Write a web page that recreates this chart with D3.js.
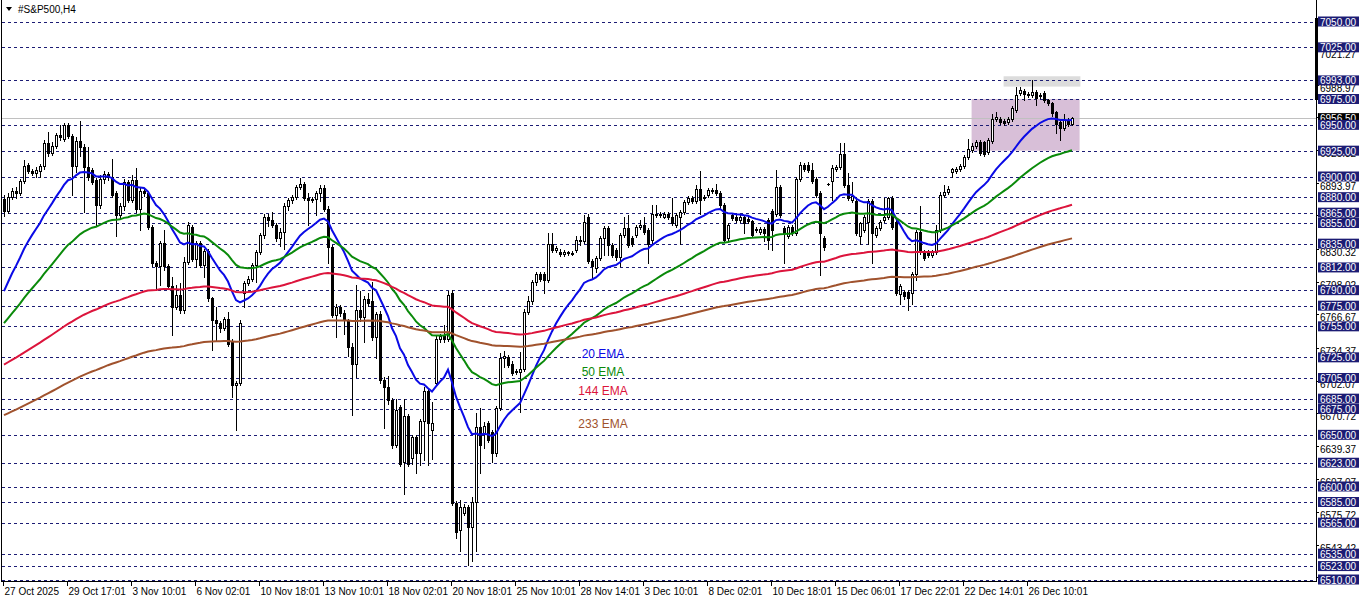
<!DOCTYPE html>
<html><head><meta charset="utf-8">
<script src="https://cdn.jsdelivr.net/npm/d3@7"></script>
<style>body{margin:0;background:#fff;} svg{display:block;font-family:"Liberation Sans",Arial,sans-serif;}</style>
</head><body><svg id="c" width="1362" height="603"></svg>
<script>
// ---- DATA ----
const opens=[6878,6867,6880,6886,6884,6896,6911,6905,6903,6905,6910,6932,6923,6930,6940,6936,6950,6939,6910,6934,6929,6909,6906,6897,6872,6898,6902,6900,6884,6863,6871,6895,6877,6897,6869,6886,6884,6851,6816,6813,6836,6813,6794,6774,6785,6771,6817,6851,6820,6836,6814,6828,6782,6761,6758,6753,6762,6741,6698,6700,6787,6797,6801,6814,6827,6843,6861,6858,6853,6840,6846,6871,6877,6880,6890,6893,6879,6877,6878,6884,6889,6869,6832,6766,6774,6768,6761,6735,6719,6771,6764,6781,6780,6745,6767,6703,6696,6684,6640,6677,6624,6668,6628,6648,6632,6663,6692,6655,6700,6743,6746,6743,6787,6584,6558,6574,6580,6561,6585,6658,6652,6661,6653,6632,6676,6724,6725,6719,6711,6711,6714,6769,6780,6798,6806,6806,6800,6835,6829,6827,6825,6827,6826,6829,6839,6838,6861,6818,6811,6821,6840,6850,6834,6829,6822,6843,6850,6840,6843,6851,6853,6848,6839,6864,6863,6861,6864,6861,6853,6861,6866,6875,6879,6876,6888,6880,6882,6887,6887,6884,6872,6840,6863,6861,6858,6861,6859,6857,6849,6846,6849,6858,6867,6864,6890,6850,6842,6851,6845,6898,6911,6911,6906,6898,6884,6840,6893,6896,6907,6909,6922,6892,6877,6876,6842,6848,6856,6876,6843,6850,6858,6861,6879,6856,6786,6788,6788,6787,6806,6846,6827,6827,6824,6827,6848,6882,6885,6904,6905,6907,6910,6919,6926,6930,6933,6933,6924,6934,6956,6956,6954,6953,6956,6964,6981,6983,6980,6979,6982,6978,6981,6974,6971,6962,6953,6947,6955,6951];
const highs=[6882,6884,6889,6890,6898,6916,6913,6907,6909,6912,6935,6943,6933,6942,6950,6952,6952,6941,6938,6954,6931,6929,6908,6899,6901,6905,6904,6917,6886,6874,6898,6897,6901,6908,6889,6889,6886,6853,6818,6838,6848,6815,6803,6795,6797,6822,6856,6853,6838,6838,6830,6830,6783,6774,6760,6764,6769,6743,6702,6761,6799,6804,6816,6829,6845,6864,6864,6866,6855,6850,6874,6879,6882,6892,6899,6895,6884,6880,6886,6892,6892,6871,6834,6777,6776,6771,6762,6739,6795,6789,6784,6787,6798,6769,6770,6706,6707,6686,6685,6679,6685,6670,6650,6650,6665,6696,6694,6682,6746,6748,6756,6789,6790,6586,6587,6583,6582,6590,6671,6676,6662,6663,6655,6678,6729,6731,6727,6721,6714,6730,6772,6784,6800,6808,6808,6808,6845,6845,6833,6830,6829,6828,6828,6842,6842,6863,6864,6820,6823,6842,6852,6852,6836,6831,6845,6861,6863,6842,6853,6858,6861,6850,6872,6872,6866,6866,6866,6879,6865,6868,6877,6881,6881,6892,6905,6882,6889,6889,6893,6886,6874,6855,6865,6863,6863,6863,6861,6858,6851,6851,6851,6860,6869,6906,6892,6852,6853,6853,6900,6914,6913,6914,6913,6900,6886,6842,6894,6911,6911,6932,6932,6903,6895,6878,6856,6863,6878,6878,6852,6858,6879,6880,6881,6858,6796,6790,6790,6808,6848,6871,6829,6829,6829,6853,6885,6892,6891,6908,6909,6912,6921,6936,6932,6935,6935,6934,6937,6960,6962,6958,6956,6958,6968,6987,6987,6985,6982,6993,6984,6981,6983,6975,6972,6963,6955,6960,6957,6958];
const lows=[6862,6865,6878,6879,6882,6894,6903,6901,6900,6900,6907,6920,6921,6928,6935,6934,6937,6882,6904,6920,6866,6897,6893,6853,6870,6894,6897,6880,6842,6860,6868,6875,6875,6866,6848,6881,6849,6813,6790,6795,6810,6793,6747,6772,6768,6768,6815,6818,6812,6812,6803,6780,6732,6742,6750,6751,6736,6687,6655,6698,6774,6795,6799,6798,6825,6840,6852,6851,6838,6833,6830,6868,6874,6878,6888,6877,6853,6875,6863,6876,6867,6816,6764,6745,6765,6748,6726,6669,6706,6760,6740,6775,6742,6724,6700,6657,6680,6637,6638,6620,6593,6620,6622,6613,6621,6626,6621,6627,6698,6740,6740,6741,6582,6550,6538,6572,6524,6528,6538,6613,6637,6643,6624,6630,6674,6716,6716,6708,6709,6672,6712,6767,6777,6795,6799,6787,6798,6827,6827,6823,6823,6824,6824,6827,6834,6836,6816,6801,6808,6819,6824,6824,6822,6819,6813,6841,6832,6833,6841,6849,6844,6816,6836,6861,6861,6860,6859,6853,6851,6835,6864,6873,6874,6874,6864,6877,6880,6884,6882,6870,6837,6838,6858,6856,6856,6845,6855,6841,6846,6844,6838,6830,6829,6862,6861,6816,6840,6843,6843,6896,6905,6904,6894,6880,6805,6829,6892,6877,6905,6907,6890,6877,6875,6843,6835,6846,6835,6816,6841,6848,6856,6859,6849,6785,6777,6781,6771,6777,6800,6825,6819,6822,6822,6825,6846,6880,6883,6900,6903,6905,6908,6917,6924,6928,6921,6920,6922,6932,6954,6951,6950,6951,6954,6962,6979,6974,6977,6977,6969,6976,6972,6969,6959,6942,6935,6945,6949,6950];
const closes=[6867,6880,6886,6884,6896,6910,6905,6903,6906,6910,6932,6923,6930,6940,6938,6950,6939,6910,6934,6929,6909,6900,6895,6872,6898,6902,6900,6882,6863,6871,6895,6877,6897,6869,6886,6884,6851,6816,6813,6836,6813,6794,6774,6785,6771,6817,6853,6820,6836,6814,6828,6782,6761,6758,6753,6762,6738,6698,6700,6758,6797,6801,6814,6827,6843,6861,6858,6853,6840,6846,6871,6877,6880,6890,6893,6879,6877,6878,6884,6889,6869,6832,6766,6774,6768,6761,6735,6719,6771,6764,6781,6778,6745,6767,6703,6696,6684,6640,6674,6622,6668,6622,6648,6632,6663,6692,6661,6661,6743,6746,6743,6785,6584,6556,6580,6580,6561,6585,6658,6640,6659,6645,6632,6676,6724,6726,6718,6710,6712,6714,6769,6780,6798,6806,6801,6800,6835,6829,6831,6825,6827,6826,6825,6839,6838,6856,6818,6813,6821,6840,6850,6834,6824,6822,6843,6850,6834,6835,6851,6853,6846,6835,6864,6863,6864,6864,6861,6855,6863,6866,6875,6879,6876,6888,6877,6879,6887,6886,6884,6872,6839,6853,6860,6858,6861,6855,6857,6843,6848,6849,6845,6839,6848,6890,6863,6845,6851,6845,6898,6911,6907,6906,6896,6882,6845,6832,6893,6908,6909,6922,6892,6879,6881,6845,6855,6861,6876,6845,6850,6856,6861,6879,6851,6787,6794,6784,6782,6806,6846,6827,6821,6824,6827,6848,6882,6885,6888,6907,6907,6910,6919,6927,6930,6933,6923,6922,6935,6956,6958,6953,6952,6956,6966,6979,6984,6980,6979,6982,6976,6979,6974,6971,6961,6951,6947,6955,6951,6956.5];

const dateLabels=["27 Oct 2025","29 Oct 17:01","3 Nov 10:01","6 Nov 02:01","10 Nov 18:01","13 Nov 10:01","18 Nov 02:01","20 Nov 18:01","25 Nov 10:01","28 Nov 14:01","3 Dec 10:01","8 Dec 02:01","10 Dec 18:01","15 Dec 06:01","17 Dec 22:01","22 Dec 14:01","26 Dec 10:01"];
const dateLabelBars=[0,16,32,48,64,80,96,112,128,144,160,176,192,208,224,240,256];
const levelLines=[7050,7025,6993,6975,6950,6925,6900,6880,6865,6855,6835,6812,6790,6775,6755,6725,6705,6685,6675,6650,6623,6600,6585,6565,6535,6523,6510];
const scaleTicks=[7052.62,7021.27,6988.97,6957.62,6925.32,6893.97,6862.62,6830.32,6798.02,6766.67,6734.37,6702.07,6670.72,6639.37,6607.07,6575.72,6543.42,6512.07];
const currentPrice=6956.50;
const emaPeriods=[20,50,144,233];
const emaSeeds=[6789,6758,6718,6669];
const emaNames=["20 EMA","50 EMA","144 EMA","233 EMA"];
const boxGray=[249.9,269.1,6997,6987];
const boxPurple=[241.9,268.9,6975,6925];

// ---- STYLE ----
const emaColors=["#0a0ae6","#0a8a0a","#dc143c","#a0522d"];
const navy="#1c1c74";
const W=1362,H=603,plotRight=1316,plotBottom=581;
const svg=d3.select("#c");
const x=d3.scaleLinear().domain([0,267]).range([4,1072]);
const y=d3.scaleLinear().domain([6510,7050]).range([579.5,21.5]);

// rectangles (background)
[[boxPurple,"#d8bfd8"],[boxGray,"#dcdcdc"]].forEach(([b,col])=>{
  svg.append("rect").attr("x",x(b[0])).attr("width",x(b[1])-x(b[0]))
    .attr("y",y(b[2])).attr("height",y(b[3])-y(b[2])).attr("fill",col);
});

// level lines
svg.append("g").selectAll("line").data(levelLines).join("line")
  .attr("x1",2).attr("x2",plotRight).attr("y1",d=>Math.round(y(d))+0.5).attr("y2",d=>Math.round(y(d))+0.5)
  .attr("stroke",navy).attr("stroke-width",1).attr("stroke-dasharray","3,3");

// current price line
svg.append("line").attr("x1",2).attr("x2",plotRight).attr("y1",Math.round(y(currentPrice))+0.5).attr("y2",Math.round(y(currentPrice))+0.5)
  .attr("stroke","#c0c0c0").attr("stroke-width",1);

// candles
const cg=svg.append("g").attr("shape-rendering","crispEdges");
closes.forEach((c,i)=>{
  const xc=Math.round(x(i));
  const o=opens[i],hi=highs[i],lo=lows[i];
  cg.append("line").attr("x1",xc+0.5).attr("x2",xc+0.5).attr("y1",Math.round(y(hi))).attr("y2",Math.round(y(lo))+1).attr("stroke","#000");
  const t=Math.round(y(Math.max(o,c))), b=Math.round(y(Math.min(o,c)));
  const bull=c>=o;
  if(b-t<1){
    cg.append("rect").attr("x",xc-1).attr("y",t).attr("width",3).attr("height",1).attr("fill","#000");
  } else {
    cg.append("rect").attr("x",xc-1+0.5).attr("y",t+0.5).attr("width",2).attr("height",b-t)
      .attr("fill",bull?"#fff":"#000").attr("stroke","#000").attr("stroke-width",1);
  }
});

// EMAs
const line=d3.line().x((d,i)=>x(i)).y(d=>y(d));
emaPeriods.forEach((p,k)=>{
  const a=2/(p+1); let e=emaSeeds[k];
  const vals=closes.map((c,i)=> i===0? e : (e=e+a*(c-e)));
  svg.append("path").attr("d",line(vals)).attr("fill","none").attr("stroke",emaColors[k]).attr("stroke-width",2);
});

// EMA labels
const labY=[353,371.5,390.5,423.5];
emaNames.forEach((n,k)=>{
  svg.append("text").attr("x",603).attr("y",labY[k]+4.5).attr("text-anchor","middle")
    .attr("font-size",12).attr("fill",emaColors[k]).text(n);
});

// frame
svg.append("path").attr("d",`M1.5,0 V${plotBottom+0.5} H${plotRight+0.5} V0`).attr("fill","none").attr("stroke","#000").attr("shape-rendering","crispEdges");
svg.append("rect").attr("x",1315).attr("y",18).attr("width",3).attr("height",82).attr("fill","#000");

// scale ticks (auto)
const sg=svg.append("g");
scaleTicks.forEach(v=>{
  const yy=Math.round(y(v))+0.5;
  sg.append("line").attr("x1",plotRight).attr("x2",plotRight+3).attr("y1",yy).attr("y2",yy).attr("stroke","#000");
  sg.append("text").attr("x",1320).attr("y",yy+6.5).attr("font-size",10).attr("fill","#000").text(v.toFixed(2));
});
// current price box
{
  const yy=y(currentPrice);
  svg.append("rect").attr("x",1318).attr("y",yy-5).attr("width",41).attr("height",10).attr("fill","#000");
  svg.append("text").attr("x",1320).attr("y",yy+4).attr("font-size",10).attr("fill","#fff").text(currentPrice.toFixed(2));
}
// level labels
levelLines.forEach(v=>{
  const yy=y(v);
  svg.append("rect").attr("x",1318).attr("y",yy-5).attr("width",41).attr("height",10).attr("fill",navy);
  svg.append("text").attr("x",1320).attr("y",yy+4).attr("font-size",10).attr("fill","#fff").text(v.toFixed(2));
});

// date axis
dateLabelBars.forEach((b,k)=>{
  const xx=Math.round(x(b))-0.5;
  svg.append("line").attr("x1",xx).attr("x2",xx).attr("y1",plotBottom).attr("y2",plotBottom+5).attr("stroke","#000");
  svg.append("text").attr("x",xx+1).attr("y",595).attr("font-size",10).attr("fill","#000").text(dateLabels[k]);
});

// title
svg.append("path").attr("d","M6,7 L12,7 L9,11 Z").attr("fill","#000");
svg.append("text").attr("x",18).attr("y",13).attr("font-size",10).attr("fill","#000").text("#S&P500,H4");
</script></body></html>
